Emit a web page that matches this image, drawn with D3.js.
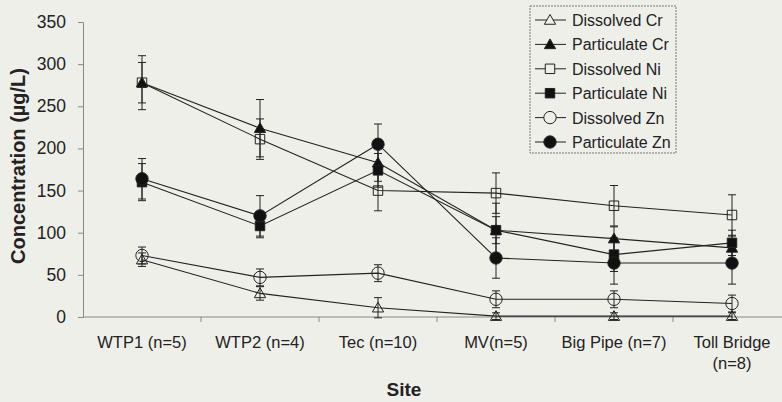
<!DOCTYPE html>
<html>
<head>
<meta charset="utf-8">
<script src="https://cdn.jsdelivr.net/npm/d3@7"></script>
<style>
  html, body { margin: 0; padding: 0; background: #efefea; overflow: hidden; }
  svg { display: block; font-family: "Liberation Sans", Arial, sans-serif; }
</style>
</head>
<body>
<div id="chart"></div>
<script>
// Data
const sites = ['WTP1 (n=5)', 'WTP2 (n=4)', 'Tec (n=10)', 'MV(n=5)', 'Big Pipe (n=7)', 'Toll Bridge|(n=8)'];
const yTicks = [0, 50, 100, 150, 200, 250, 300, 350];

const dissolvedCr = [68, 28, 11, 1, 1, 1];
const dissolvedCrErr = [8, 8, 12, 4, 4, 4];
const particulateCr = [278, 224, 183, 103, 93, 82];
const particulateCrErr = [24, 34, 22, 32, 14, 14];
const dissolvedNi = [278, 211, 150, 147, 132, 121];
const dissolvedNiErr = [32, 24, 24, 24, 24, 24];
const particulateNi = [160, 108, 174, 103, 74, 88];
const particulateNiErr = [22, 14, 20, 16, 20, 15];
const dissolvedZn = [73, 47, 52, 21, 21, 16];
const dissolvedZnErr = [10, 10, 10, 10, 10, 10];
const particulateZn = [164, 120, 205, 70, 64, 64];
const particulateZnErr = [24, 24, 24, 24, 25, 25];

const series = [
  {name: 'Dissolved Cr', values: dissolvedCr, err: dissolvedCrErr, shape: 'triangle', filled: false},
  {name: 'Particulate Cr', values: particulateCr, err: particulateCrErr, shape: 'triangle', filled: true},
  {name: 'Dissolved Ni', values: dissolvedNi, err: dissolvedNiErr, shape: 'square', filled: false},
  {name: 'Particulate Ni', values: particulateNi, err: particulateNiErr, shape: 'square', filled: true},
  {name: 'Dissolved Zn', values: dissolvedZn, err: dissolvedZnErr, shape: 'circle', filled: false},
  {name: 'Particulate Zn', values: particulateZn, err: particulateZnErr, shape: 'circle', filled: true}
];

const width = 782, height = 402;
const margins = {top: 22, right: -9, bottom: 85, left: 83};
const innerWidth = width - margins.left - margins.right;
const innerHeight = height - margins.top - margins.bottom;

const svg = d3.select('#chart').append('svg')
    .attr('width', width)
    .attr('height', height);

const g = svg.append('g')
    .attr('transform', `translate(${margins.left}, ${margins.top})`);

const xScale = d3.scaleBand()
    .domain(sites)
    .range([0, innerWidth]);
const yScale = d3.scaleLinear()
    .domain([0, 350])
    .range([innerHeight, 0]);

const symbolTypes = {triangle: d3.symbolTriangle, square: d3.symbolSquare, circle: d3.symbolCircle};
const symbolSizes = {triangle: 55, square: 90, circle: 120};
const symbol = (s) => d3.symbol().type(symbolTypes[s.shape]).size(symbolSizes[s.shape]);

// Axes (tick labels drawn separately in page coordinates)
const yAxis = d3.axisLeft(yScale)
    .tickValues(yTicks)
    .tickSize(5)
    .tickFormat('');
const yAxisG = g.append('g').attr('class', 'y axis').call(yAxis);
yAxisG.select('.domain').attr('stroke', '#888');
yAxisG.selectAll('line').attr('stroke', '#888');

svg.append('g').attr('class', 'y labels')
  .selectAll('text')
  .data(yTicks)
  .enter().append('text')
    .attr('x', margins.left - 17)
    .attr('y', (d) => margins.top + yScale(d) + 6)
    .attr('text-anchor', 'end')
    .attr('font-size', 17.5)
    .attr('fill', '#222')
    .text((d) => d);

const xAxisG = g.append('g')
    .attr('class', 'x axis')
    .attr('transform', `translate(0, ${innerHeight})`);
xAxisG.append('line')
    .attr('x1', 0).attr('x2', innerWidth)
    .attr('stroke', '#888');
xAxisG.selectAll('line.tick')
  .data(sites.slice(1))
  .enter().append('line')
    .attr('class', 'tick')
    .attr('x1', (d) => xScale(d)).attr('x2', (d) => xScale(d))
    .attr('y1', 0).attr('y2', 5)
    .attr('stroke', '#888');
xAxisG.selectAll('text.site')
  .data(sites)
  .enter().append('text')
    .attr('class', 'site')
    .attr('x', (d) => xScale(d) + xScale.bandwidth() / 2)
    .attr('y', 31)
    .attr('text-anchor', 'middle')
    .attr('font-size', 16.5)
    .attr('fill', '#222')
  .each(function(d){
    d.split('|').forEach((part, i) => {
      d3.select(this).append('tspan')
        .attr('x', xScale(d) + xScale.bandwidth() / 2)
        .attr('dy', i === 0 ? 0 : 21)
        .text(part);
    });
  });

// Axis titles
svg.append('text')
    .attr('x', 25)
    .attr('y', 166)
    .attr('transform', 'rotate(-90, 25, 166)')
    .attr('text-anchor', 'middle')
    .attr('font-size', 20)
    .attr('font-weight', 'bold')
    .attr('fill', '#222')
    .text('Concentration (µg/L)');
svg.append('text')
    .attr('x', 404)
    .attr('y', 396)
    .attr('text-anchor', 'middle')
    .attr('font-size', 19)
    .attr('font-weight', 'bold')
    .attr('fill', '#222')
    .text('Site');

const cx = (i) => xScale(sites[i]) + xScale.bandwidth() / 2;

// Error bars
series.forEach((s) => {
  const eb = g.append('g').attr('class', 'errors');
  s.values.forEach((v, i) => {
    const lo = yScale(v - s.err[i]), hi = yScale(v + s.err[i]);
    eb.append('line')
      .attr('x1', cx(i)).attr('x2', cx(i))
      .attr('y1', lo).attr('y2', hi)
      .attr('stroke', '#222');
    [lo, hi].forEach((yy) => {
      eb.append('line')
        .attr('x1', cx(i) - 4).attr('x2', cx(i) + 4)
        .attr('y1', yy).attr('y2', yy)
        .attr('stroke', '#222');
    });
  });
});

// Lines
const line = d3.line()
    .x((d, i) => cx(i))
    .y((d) => yScale(d));
g.selectAll('path.line')
  .data(series)
  .enter().append('path')
    .attr('class', 'line')
    .attr('d', (d) => line(d.values))
    .attr('fill', 'none')
    .attr('stroke', '#222')
    .attr('stroke-width', 1.1);

// Markers
series.forEach((s) => {
  g.selectAll(null)
    .data(s.values)
    .enter().append('path')
      .attr('d', symbol(s))
      .attr('transform', (d, i) => `translate(${cx(i)}, ${yScale(d) + (s.shape === 'triangle' ? 1 : 0)})`)
      .attr('fill', s.filled ? '#111' : 'none')
      .attr('stroke', '#222')
      .attr('stroke-width', 1);
});

// Legend
const legend = svg.append('g').attr('class', 'legend')
    .attr('transform', 'translate(530, 6)');
legend.append('rect')
    .attr('width', 146)
    .attr('height', 147)
    .attr('fill', '#efefea')
    .attr('stroke', '#777')
    .attr('stroke-dasharray', '2,1');
const rows = legend.selectAll('g.row')
  .data(series)
  .enter().append('g')
    .attr('class', 'row')
    .attr('transform', (d, i) => `translate(0, ${14 + i * 24.4})`);
rows.append('line')
    .attr('x1', 5).attr('x2', 36)
    .attr('stroke', '#222');
rows.append('path')
    .attr('d', (d) => symbol(d)())
    .attr('transform', (d) => `translate(20, ${d.shape === 'triangle' ? 1 : 0})`)
    .attr('fill', (d) => d.filled ? '#111' : '#efefea')
    .attr('stroke', '#222');
rows.append('text')
    .attr('x', 42)
    .attr('y', 6)
    .attr('font-size', 16)
    .attr('fill', '#222')
    .text((d) => d.name);
</script>
</body>
</html>
